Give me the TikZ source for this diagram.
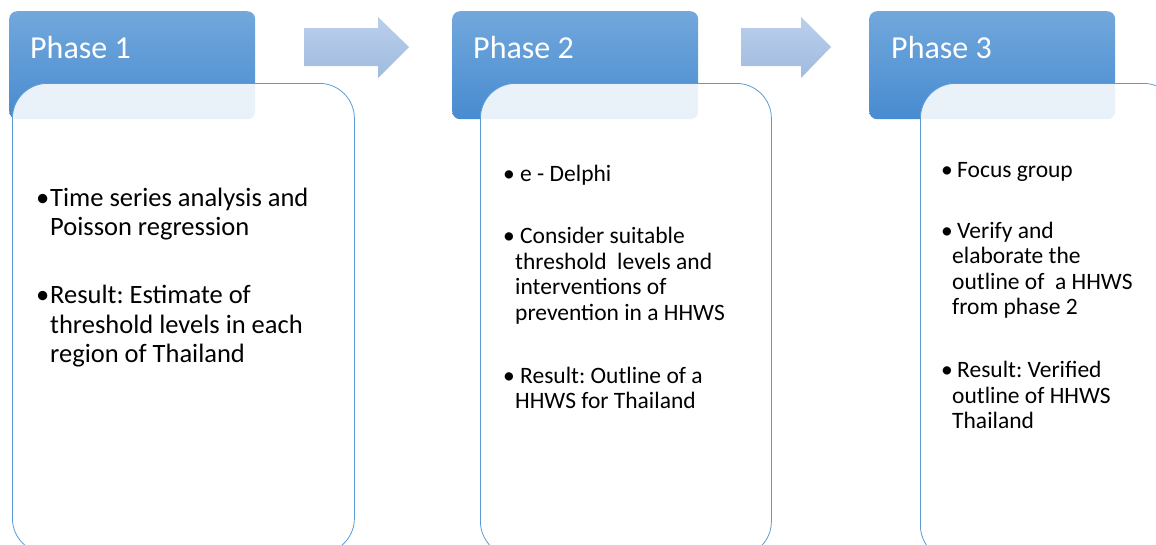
\documentclass[tikz,border=0pt]{standalone}
\usepackage{fontspec}
\setmainfont{Carlito}
\usetikzlibrary{positioning, calc}

\definecolor{headtop}{RGB}{114, 168, 220}
\definecolor{headbot}{RGB}{72, 139, 208}
\definecolor{frameblue}{RGB}{91, 155, 213}
\definecolor{arrtop}{RGB}{186, 207, 235}
\definecolor{arrbot}{RGB}{160, 187, 224}

\newcommand{\itemdot}[1]{\makebox[#1][l]{\textbullet}}
\newcommand{\hang}[1]{\hspace*{#1}}

\tikzset{
  phasehead/.style={rounded corners=8pt, top color=headtop, bottom color=headbot,
    minimum width=246pt, minimum height=108pt, anchor=north west, inner sep=0pt},
  phasename/.style={text=white, font=\fontsize{32}{38}\selectfont, anchor=base west, inner sep=0pt},
  phasebody/.style={rounded corners=35pt, draw=frameblue, line width=0.8pt, fill=white,
    fill opacity=0.88, anchor=north west, minimum height=470pt, inner sep=0pt},
  bigtext/.style={font=\fontsize{26.5}{29.5}\selectfont\frenchspacing, align=left, anchor=north west,
    inner sep=0pt, execute at begin node={\strut}},
  smalltext/.style={font=\fontsize{23.5}{25.5}\selectfont\frenchspacing, align=left, anchor=north west,
    inner sep=0pt, execute at begin node={\strut}},
  blockarrow/.style={top color=arrtop, bottom color=arrbot}
}

\begin{document}
\begin{tikzpicture}[x=1pt, y=-1pt]
  \useasboundingbox (0,0) rectangle (1156,544);
  \fill[white] (0,0) rectangle (1156,544);
  \clip (0,0) rectangle (1156,544);

  % Phase headers
  \node[phasehead] (h1) at (9,11) {};
  \node[phasehead] (h2) at (452,11) {};
  \node[phasehead] (h3) at (869,11) {};
  \node[phasename] (n1) at ($(h1.north west)+(21,47)$) {Phase 1};
  \node[phasename] (n2) at ($(h2.north west)+(21,47)$) {Phase 2};
  \node[phasename] (n3) at ($(h3.north west)+(22,47)$) {Phase 3};

  % Arrows between phases
  \shade[blockarrow] (304,28) -- (378,28) -- (378,17) -- (409,47) -- (378,78) -- (378,66) -- (304,66) -- cycle;
  \shade[blockarrow] (741,28) -- (801,28) -- (801,17) -- (831,47) -- (801,78) -- (801,66) -- (741,66) -- cycle;

  % Content boxes
  \node[phasebody, minimum width=342pt] (b1) at (12,83) {};
  \node[phasebody, minimum width=291pt, minimum height=473pt] (b2) at (480,83) {};
  \node[phasebody, minimum width=258pt, minimum height=477pt] (b3) at (920,83) {};

  % Phase 1 text
  \node[bigtext] (t1) at (36,187.4) {%
    \itemdot{14pt}Time series analysis and\\
    \hang{14pt}Poisson regression\\[38.5pt]
    \itemdot{14pt}Result: Estimate of\\
    \hang{14pt}threshold levels in each\\
    \hang{14pt}region of Thailand};

  % Phase 2 text
  \node[smalltext] (t2) at (503,165.2) {%
    \itemdot{17pt}e - Delphi\\[36.5pt]
    \itemdot{17pt}Consider suitable\\
    \hang{12pt}threshold\ \ levels and\\
    \hang{12pt}interventions of\\
    \hang{12pt}prevention in a HHWS\\[37.5pt]
    \itemdot{17pt}Result: Outline of a\\
    \hang{12pt}HHWS for Thailand};

  % Phase 3 text
  \node[smalltext] (t3) at (941,162.2) {%
    \itemdot{16pt}Focus group\\[35.5pt]
    \itemdot{16pt}Verify and\\
    \hang{11pt}elaborate the\\
    \hang{11pt}outline of\ \ a HHWS\\
    \hang{11pt}from phase 2\\[37.5pt]
    \itemdot{16pt}Result: Verified\\
    \hang{11pt}outline of HHWS\\
    \hang{11pt}Thailand};
\end{tikzpicture}
\end{document}
